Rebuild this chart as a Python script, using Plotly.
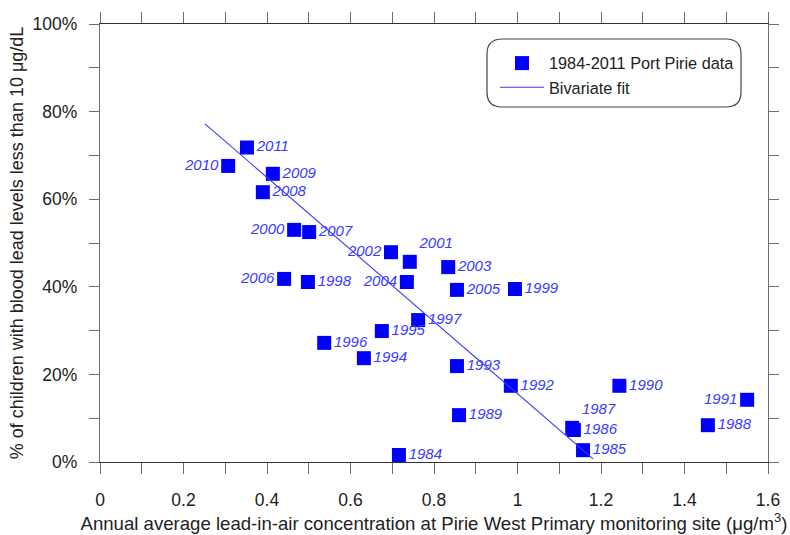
import plotly.graph_objects as go

# Port Pirie annual data: lead-in-air (µg/m³) vs % of children below 10 µg/dL
years = ["2011", "2010", "2009", "2008", "2000", "2007", "2006", "1998",
         "2002", "2001", "2004", "2003", "2005", "1999", "1997", "1995",
         "1996", "1994", "1993", "1992", "1990", "1991", "1989", "1988",
         "1987", "1986", "1985", "1984"]
air_lead = [0.352, 0.307, 0.414, 0.390, 0.465, 0.501, 0.441, 0.498,
            0.697, 0.742, 0.735, 0.834, 0.855, 0.994, 0.762, 0.675,
            0.537, 0.632, 0.855, 0.984, 1.244, 1.550, 0.860, 1.456,
            1.131, 1.135, 1.157, 0.716]
pct_below_10 = [71.8, 67.6, 65.8, 61.6, 53.0, 52.5, 41.8, 41.1,
                47.9, 45.7, 41.1, 44.5, 39.3, 39.5, 32.4, 29.9,
                27.2, 23.7, 21.9, 17.4, 17.4, 14.2, 10.7, 8.4,
                7.8, 7.3, 2.7, 1.6]

# Bivariate fit line end points
fit_x = [0.2515, 1.181]
fit_y = [77.2, 0.7]

x_ticks = [0, 0.2, 0.4, 0.6, 0.8, 1.0, 1.2, 1.4, 1.6]
x_tick_text = ["0", "0.2", "0.4", "0.6", "0.8", "1", "1.2", "1.4", "1.6"]
y_ticks = [0, 20, 40, 60, 80, 100]
y_tick_text = ["0%", "20%", "40%", "60%", "80%", "100%"]

# where each year label sits relative to its marker
label_side = {"2010": "middle left", "2000": "middle left", "2006": "middle left",
              "2002": "middle left", "2004": "middle left", "1991": "middle left",
              "2001": "top right", "1987": "top right"}
text_pos = [label_side.get(y, "middle right") for y in years]

FONT = "Liberation Sans, Arial, sans-serif"
BLUE = "#0000ff"
LABEL_BLUE = "#3a3aff"
AXIS = "#6e6e6e"
TEXT = "#222222"

fig = go.Figure()
fig.add_trace(go.Scatter(
    x=air_lead, y=pct_below_10, mode="markers+text",
    name="1984-2011 Port Pirie data",
    marker=dict(symbol="square", size=14, color=BLUE),
    text=years, textposition=text_pos,
    textfont=dict(family=FONT, size=15, color=LABEL_BLUE, style="italic"),
    cliponaxis=False,
))
fig.add_trace(go.Scatter(
    x=fit_x, y=fit_y, mode="lines", name="Bivariate fit",
    line=dict(color=LABEL_BLUE, width=1.1),
))


def rounded_rect(x0, y0, x1, y1, rx, ry):
    return (f"M{x0 + rx},{y1} L{x1 - rx},{y1} Q{x1},{y1} {x1},{y1 - ry} "
            f"L{x1},{y0 + ry} Q{x1},{y0} {x1 - rx},{y0} "
            f"L{x0 + rx},{y0} Q{x0},{y0} {x0},{y0 + ry} "
            f"L{x0},{y1 - ry} Q{x0},{y1} {x0 + rx},{y1} Z")


W, H = 790, 535
ML, MR, MT, MB = 100, 22, 24, 73
PW, PH = W - ML - MR, H - MT - MB


def px(xp):
    return (xp - ML) / PW


def py(yp):
    return (H - MB - yp) / PH


legend_box = rounded_rect(px(487), py(107), px(741), py(39), 15 / PW, 15 / PH)

fig.update_layout(
    width=W, height=H,
    margin=dict(l=ML, r=MR, t=MT, b=MB, autoexpand=False),
    paper_bgcolor="white", plot_bgcolor="white",
    font=dict(family=FONT, size=17, color=TEXT),
    showlegend=True,
    legend=dict(x=px(495), y=py(46), xanchor="left", yanchor="top",
                bgcolor="rgba(0,0,0,0)", borderwidth=0,
                font=dict(family=FONT, size=16.3, color=TEXT),
                itemwidth=44, tracegroupgap=0),
    shapes=[dict(type="path", xref="paper", yref="paper", path=legend_box,
                 line=dict(color="#444444", width=1.2), layer="above")],
)

fig.update_xaxes(
    range=[0, 1.6], tickvals=x_ticks, ticktext=x_tick_text,
    automargin=False,
    showgrid=False, zeroline=False,
    showline=True, linecolor="#333333", linewidth=1.3, mirror="ticks",
    ticks="outside", ticklen=11, tickwidth=1.3, tickcolor=AXIS,
    minor=dict(dtick=0.1, ticks="outside", ticklen=11, tickwidth=1.3,
               tickcolor=AXIS, showgrid=False),
    ticklabelstandoff=11,
    tickfont=dict(size=17.5, color=TEXT),
    title=dict(text="Annual average lead-in-air concentration at Pirie West Primary "
                    "monitoring site (μg/m<sup>3</sup>)",
               font=dict(size=18.6, color=TEXT), standoff=3),
)
fig.update_yaxes(
    range=[0, 100], tickvals=y_ticks, ticktext=y_tick_text,
    automargin=False,
    showgrid=False, zeroline=False,
    showline=True, linecolor=AXIS, linewidth=1.3, mirror="ticks",
    ticks="outside", ticklen=10, tickwidth=1.3, tickcolor=AXIS,
    minor=dict(dtick=10, ticks="outside", ticklen=10, tickwidth=1.3,
               tickcolor=AXIS, showgrid=False),
    ticklabelstandoff=8,
    tickfont=dict(size=17.5, color=TEXT),
    title=dict(text="% of children with blood lead levels less than 10 μg/dL",
               font=dict(size=18, color=TEXT), standoff=4),
)

fig.write_html("out.html")
